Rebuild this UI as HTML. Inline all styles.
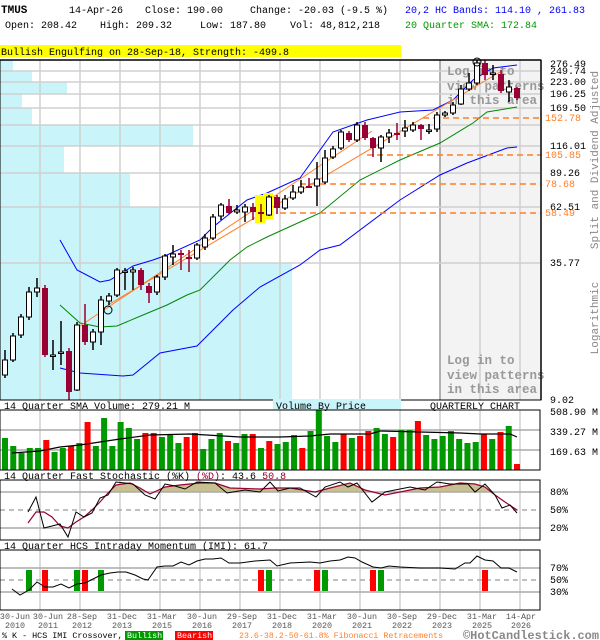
<!DOCTYPE html>
<html><head><meta charset="utf-8"><style>
body{margin:0;background:#fff}
svg{display:block;font-family:"Liberation Mono","DejaVu Sans Mono",monospace;font-size:10px}
</style></head><body>
<svg id="s" width="600" height="640" xmlns="http://www.w3.org/2000/svg">
<rect width="600" height="640" fill="#fff"/>
<text x="1" y="13" font-weight="bold" font-size="11">TMUS</text>
<text x="69" y="13">14-Apr-26</text>
<text x="145" y="13">Close: 190.00</text>
<text x="250" y="13">Change: -20.03 (-9.5 %)</text>
<text x="405" y="13" fill="#0000ff">20,2 HC Bands: 114.10 , 261.83</text>
<text x="5" y="28">Open: 208.42</text>
<text x="100" y="28">High: 209.32</text>
<text x="200" y="28">Low: 187.80</text>
<text x="290" y="28">Vol: 48,812,218</text>
<text x="405" y="28" fill="#009900">20 Quarter SMA: 172.84</text>
<rect x="0" y="45" width="401" height="12" fill="#ffff00"/>
<text x="1" y="55">Bullish Engulfing on 28-Sep-18, Strength: -499.8</text>
<g id="g"></g>
</svg>
<script>
const g=document.getElementById('g');let h='';
function ln(x1,y1,x2,y2,c,w,d){h+=`<line x1="${x1}" y1="${y1}" x2="${x2}" y2="${y2}" stroke="${c}" stroke-width="${w||1}"${d?` stroke-dasharray="${d}"`:''}/>`;}
function pl(p,c,w,extra){h+=`<polyline fill="none" stroke="${c}" stroke-width="${w||1}" points="${p.map(a=>a.join(',')).join(' ')}" ${extra||''}/>`;}
function rc(x,y,w,hh,f,s){h+=`<rect x="${x}" y="${y}" width="${w}" height="${hh}" fill="${f}"${s?` stroke="${s}"`:''}/>`;}
function tx(x,y,t,c,a,ex){h+=`<text x="${x}" y="${y}" fill="${c||'#000'}"${a?` text-anchor="${a}"`:''} ${ex||''}>${t}</text>`;}
const vbp=[[60,71,13],[71,82,32],[82,94,67],[94,108,22],[108,125,32],[125,146,193],[146,173,64],[173,207,130],[207,263,160],[263,400,292]];
vbp.forEach(b=>rc(0,b[0],b[2],b[1]-b[0],'#c8f4fa'));
rc(440,61,100,339,'#f3f3f3');
for(let x=40;x<540;x+=40)ln(x,60,x,400,x==440?'#999':'#d0d0d0',1.5);
[71,82,94,108,125,146,173,207,263].forEach(y=>ln(0,y,540,y,'#d0d0d0',1.5));
[[75,'Log in to'],[90,'view patterns'],[104,'in this area'],[364,'Log in to'],[379,'view patterns'],[393,'in this area']].forEach(a=>tx(447,a[0],a[1],'#999',null,'font-size="12.5" font-weight="bold"'));
pl([[60,240],[77,270],[100,282],[110,280],[133,266],[153,260],[167,255],[200,240],[213,227],[247,200],[267,193],[300,178],[333,132],[367,120],[400,112],[433,110],[453,100],[473,80],[493,68],[517,65]],'#0000ff',1);
pl([[60,305],[80,323],[100,327],[117,326],[143,315],[167,305],[187,295],[200,290],[230,260],[247,247],[267,237],[300,222],[320,213],[360,180],[400,160],[440,143],[473,123],[487,112],[517,107]],'#008800',1);
pl([[60,368],[80,373],[123,376],[133,375],[160,353],[197,346],[233,310],[260,287],[300,265],[320,250],[340,245],[400,200],[440,175],[467,163],[507,148],[517,147]],'#0000ff',1);
ln(423,118,541,118,'#ff7f27',1.5,'6,4');ln(367,155,541,155,'#ff7f27',1.5,'6,4');
ln(300,184,541,184,'#ff7f27',1.5,'6,4');ln(280,213,541,213,'#ff7f27',1.5,'6,4');
ln(77,328,372,131,'#ff7f27',1);ln(108,305,500,72,'#ff7f27',1);
rc(255,195,10,28,'#ffff00');rc(263,193,10,26,'#ffff00');
const C=[[360,375,350,378,0],[336,360,333,362,0],[317,335,314,338,0],[292,317,287,320,0],[288,292,278,297,0],[288,355,285,357,1],[355,355,340,370,0],[352,353,321,365,0],[351,392,348,400,1],[325,390,322,391,0],[325,342,304,345,1],[332,342,329,350,0],[300,332,296,345,0],[296,301,293,305,0],[270,295,268,297,0],[271,272,268,290,0],[270,272,267,290,0],[270,285,268,290,1],[286,293,283,303,1],[277,292,275,295,0],[256,277,254,280,0],[254,257,245,265,0],[253,255,250,270,1],[257,258,250,272,1],[245,258,243,260,0],[238,247,234,250,0],[217,238,214,240,0],[205,216,203,220,0],[206,213,199,214,1],[210,212,205,214,0],[207,212,204,222,0],[207,212,203,220,1],[212,213,204,222,1],[197,215,195,216,0],[197,208,195,214,1],[199,208,195,210,0],[192,198,185,200,0],[187,192,180,194,0],[186,187,178,188,1],[179,186,162,206,0],[158,182,150,184,0],[149,157,146,159,0],[132,148,130,150,0],[133,140,131,142,1],[125,140,122,142,0],[125,138,122,140,1],[138,148,137,157,1],[137,148,135,162,0],[133,137,129,143,0],[133,134,123,140,1],[128,131,120,137,0],[125,130,122,132,0],[125,129,124,140,1],[130,131,124,134,0],[115,129,112,132,0],[113,115,111,117,0],[105,113,102,115,0],[89,104,85,105,0],[83,89,73,91,0],[63,83,60,85,0],[63,75,60,80,1],[73,74,65,80,0],[74,91,70,93,1],[87,92,80,102,0],[88,98,87,100,1]];
C.forEach((c,i)=>{const x=5+i*8,col=c[4]?'#990033':'#000';ln(x,c[2],x,c[3],col,1.5);
 if(c[4])rc(x-3,c[0],6,Math.max(2,c[1]-c[0]),'#990033');else rc(x-2.5,c[0],5,Math.max(1.5,c[1]-c[0]),'#fff','#000');});
h+='<circle cx="108" cy="310" r="4" fill="none" stroke="#000"/><circle cx="477" cy="62" r="4" fill="none" stroke="#000"/>';
rc(0,60,541,340,'none','#000');ln(541,60,541,400,'#000',1.5);ln(0,60,541,60,'#000',1.5);
[[64,'276.49'],[71,'249.74'],[82,'223.00'],[94,'196.25'],[108,'169.50'],[146,'116.01'],[173,'89.26'],[207,'62.51'],[263,'35.77'],[400,'9.02']].forEach(a=>tx(550,a[0]+3,a[1]));
[[118,'152.78'],[155,'105.85'],[184,'78.68'],[213,'58.49']].forEach(a=>tx(545,a[0]+3,a[1],'#ff7f27'));
tx(0,0,'Split and Dividend Adjusted','#888','middle','transform="translate(598,160) rotate(-90)" font-size="11"');
tx(0,0,'Logarithmic','#888','middle','transform="translate(598,318) rotate(-90)" font-size="11"');
rc(273,399,128,11,'#c8f4fa');
tx(4,409,'14 Quarter SMA Volume: 279.21 M');tx(276,409,'Volume By Price');tx(430,409,'QUARTERLY CHART');
for(let x=40;x<540;x+=40)ln(x,410,x,470,'#d0d0d0',1.5);
ln(0,430,540,430,'#aaa',1.5);ln(0,450,540,450,'#aaa',1.5);
const V=[[438,0],[446,0],[453,0],[448,0],[448,0],[440,1],[452,0],[448,0],[446,1],[443,0],[422,1],[446,0],[418,0],[446,0],[422,0],[428,0],[439,0],[433,1],[433,1],[437,0],[434,0],[443,0],[437,1],[433,1],[449,0],[439,0],[433,0],[441,1],[443,0],[434,0],[434,1],[448,0],[441,1],[444,0],[442,0],[435,0],[448,1],[431,0],[410,0],[436,0],[442,0],[434,1],[438,0],[436,1],[431,1],[428,0],[434,0],[437,1],[430,0],[430,0],[421,1],[435,0],[439,0],[436,0],[431,0],[439,0],[443,0],[442,0],[434,1],[439,0],[432,1],[426,0],[464,1]];
V.forEach((v,i)=>{const x=5+i*512/62;rc(x-3,v[0],6,470-v[0],v[1]?'#ff0000':'#009900');});
pl([[12,453],[40,451],[60,447],[80,445],[100,442],[120,439],[150,435],[190,434],[240,437],[280,437],[310,436],[330,434],[370,434],[380,431],[420,432],[460,433],[480,434],[510,434],[517,437]],'#000',1.2);
rc(0,410,540,60,'none','#000');
tx(550,415,'508.90 M');tx(550,435,'339.27 M');tx(550,455,'169.63 M');
h+=`<text x="4" y="479">14 Quarter Fast Stochastic (%K) <tspan fill="#990033">(%D)</tspan>: 43.6 <tspan fill="#990033">50.8</tspan></text>`;
for(let x=40;x<540;x+=40)ln(x,480,x,540,'#d0d0d0',1.5);
const K=[[28,512],[36,497],[44,528],[52,526],[60,524],[68,537],[76,512],[84,517],[92,513],[100,498],[108,495],[116,482],[125,483],[133,484],[145,495],[155,499],[165,484],[175,486],[185,489],[197,482],[215,483],[227,493],[245,490],[260,492],[270,482],[278,491],[290,488],[300,488],[316,497],[325,487],[340,482],[348,487],[357,483],[372,502],[385,492],[395,490],[410,487],[425,490],[437,482],[450,484],[468,484],[475,492],[485,484],[495,495],[502,508],[510,505],[517,513]];
const D=[[28,523],[36,512],[44,512],[52,517],[60,526],[68,528],[76,522],[84,517],[92,510],[100,502],[108,493],[116,485],[130,483],[140,488],[150,494],[165,487],[180,485],[200,483],[215,483],[230,488],[260,489],[275,488],[290,488],[315,492],[330,488],[350,483],[365,490],[385,495],[400,492],[420,488],[440,487],[460,483],[475,484],[485,487],[495,495],[505,502],[517,510]];
h+=`<clipPath id="cp"><rect x="0" y="480" width="540" height="12"/></clipPath>`;
h+=`<polygon clip-path="url(#cp)" fill="#c8c090" points="0,492 ${D.map(a=>a.join(',')).join(' ')} 540,492"/>`;
ln(0,492,540,492,'#aaa',1.5);ln(0,510,540,510,'#aaa',1.5,'5,4');ln(0,528,540,528,'#aaa',1.5);
pl(D,'#990033',1.2);pl(K,'#000',1);
rc(0,480,540,60,'none','#000');
tx(550,495,'80%');tx(550,513,'50%');tx(550,531,'20%');
tx(4,549,'14 Quarter HCS Intraday Momentum (IMI): 61.7');
for(let x=40;x<540;x+=40)ln(x,550,x,610,'#d0d0d0',1.5);
ln(0,568,540,568,'#aaa',1.5);ln(0,580,540,580,'#aaa',1.5,'5,4');ln(0,592,540,592,'#aaa',1.5);
[[29,0],[45,1],[77,0],[85,1],[101,0],[261,1],[269,0],[317,1],[325,0],[373,1],[381,0],[485,1]].forEach(b=>rc(b[0]-3,570,6,21,b[1]?'#ff0000':'#009900'));
pl([[12,589],[20,595],[29,590],[37,582],[45,587],[53,587],[61,584],[69,588],[77,584],[85,583],[93,579],[101,575],[110,573],[118,572],[126,572],[135,575],[143,579],[148,580],[157,567],[165,566],[173,566],[181,562],[189,565],[197,561],[205,559],[213,559],[221,558],[229,563],[240,563],[255,561],[270,560],[277,566],[290,563],[310,562],[320,563],[330,561],[340,560],[348,557],[355,558],[362,562],[373,567],[381,568],[389,566],[400,567],[420,568],[440,568],[455,569],[465,563],[470,563],[477,556],[485,560],[493,561],[501,568],[509,568],[517,572]],'#000',1);
rc(0,550,540,60,'none','#000');
tx(550,571,'70%');tx(550,583,'50%');tx(550,595,'30%');
[[15,'30-Jun','2010'],[48,'30-Jun','2011'],[82,'28-Sep','2012'],[122,'31-Dec','2013'],[162,'31-Mar','2015'],[202,'30-Jun','2016'],[242,'29-Sep','2017'],[282,'31-Dec','2018'],[322,'31-Mar','2020'],[362,'30-Jun','2021'],[402,'30-Sep','2022'],[442,'29-Dec','2023'],[482,'31-Mar','2025'],[521,'14-Apr','2026']].forEach(d=>{tx(d[0],619,d[1],'#555','middle','font-size="8.4"');tx(d[0],628,d[2],'#555','middle','font-size="8.4"');});
tx(2,638,'% K - HCS IMI Crossover,',null,null,'font-size="8.4"');
rc(125,631,38,9,'#009900');tx(127,638,'Bullish','#fff',null,'font-size="8.4"');
rc(175,631,38,9,'#ff0000');tx(177,638,'Bearish','#fff',null,'font-size="8.4"');
tx(239,638,'23.6-38.2-50-61.8% Fibonacci Retracements','#ff7f27',null,'font-size="8.3"');
tx(463,639,'©HotCandlestick.com','#888',null,'font-size="12" font-weight="bold" textLength="136" lengthAdjust="spacingAndGlyphs"');
g.innerHTML=h;
</script>
</body></html>
